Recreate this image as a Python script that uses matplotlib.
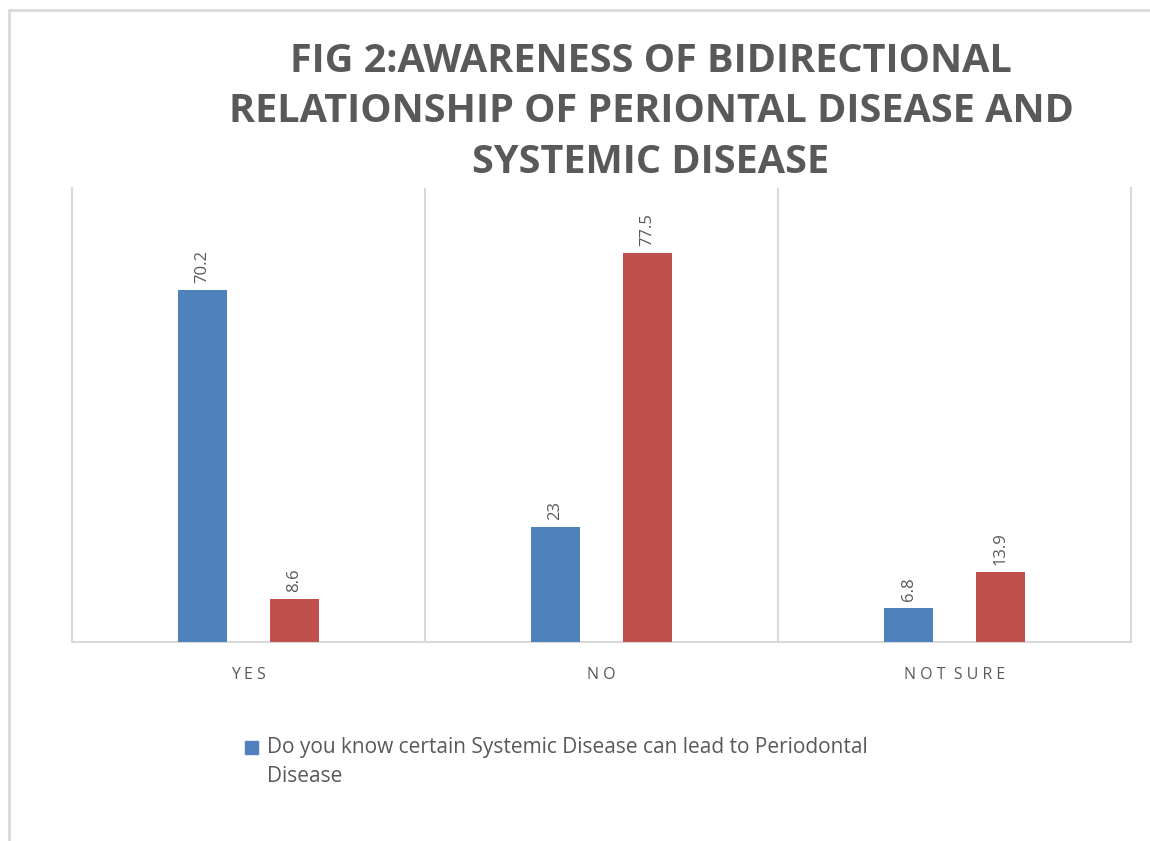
import numpy as np
import matplotlib.pyplot as plt
from matplotlib.patches import Rectangle

# Chart data
categories = ["YES", "NO", "NOT SURE"]
systemic_to_perio = [70.2, 23, 6.8]
perio_to_systemic = [8.6, 77.5, 13.9]
legend_label = "Do you know certain Systemic Disease can lead to Periodontal\nDisease"
title = "FIG 2:AWARENESS OF BIDIRECTIONAL\nRELATIONSHIP OF PERIONTAL DISEASE AND\nSYSTEMIC DISEASE"

blue = "#4F81BD"
red = "#C0504D"
text_gray = "#595959"
grid_gray = "#D9D9D9"

plt.rcParams['font.family'] = ['Open Sans', 'DejaVu Sans']

W, H = 1150, 841
fig = plt.figure(figsize=(W / 100, H / 100), dpi=100)
ax = fig.add_axes([72 / W, 1 - 642 / H, (1131 - 72) / W, (642 - 188) / H])

x = np.arange(len(categories))
width = 0.139
offset = 0.13
b1 = ax.bar(x - offset, systemic_to_perio, width, color=blue, zorder=3)
b2 = ax.bar(x + offset, perio_to_systemic, width, color=red, zorder=3)

# Value labels, rotated like the original
for bars in (b1, b2):
    for rect in bars:
        h = rect.get_height()
        ax.annotate(f"{h:g}", (rect.get_x() + rect.get_width() / 2, h),
                    xytext=(0, 5), textcoords="offset points",
                    ha="center", va="bottom", rotation=90,
                    fontsize=12, color=text_gray)

ax.set_xlim(-0.5, 2.5)
ax.set_ylim(0, 90.5)
ax.set_yticks([])
ax.set_xticks(x)
ax.set_xticklabels([" ".join(c).replace("   ", "  ") for c in categories],
                   fontsize=11.5, color=text_gray)
ax.tick_params(axis="x", length=0, pad=18)

# Category separators
for sep in (0.5, 1.5):
    ax.axvline(sep, color=grid_gray, lw=1.5, zorder=1)
for side in ("left", "right", "bottom"):
    ax.spines[side].set_color(grid_gray)
    ax.spines[side].set_linewidth(1.5)
ax.spines["top"].set_visible(False)

fig.text(651 / W, 1 - 112 / H, title, ha="center", va="center",
         fontsize=28.5, fontweight="bold", color=text_gray, linespacing=1.38)

# Legend drawn by hand so the wrapped label sits like the original
fig.patches.append(Rectangle((245 / W, 1 - 754 / H), 13 / W, 13 / H,
                             transform=fig.transFigure, color=blue))
fig.text(267 / W, 1 - 737 / H, legend_label, ha="left", va="top",
         fontsize=15, color=text_gray, linespacing=1.5)

# Outer chart frame (only top and left edges fall inside the picture)
fig.patches.append(Rectangle((9 / W, -0.1), 1.2, 1 - 10 / H + 0.1,
                             transform=fig.transFigure, fill=False,
                             edgecolor=grid_gray, lw=2))

fig.savefig("out.png", dpi=100)
